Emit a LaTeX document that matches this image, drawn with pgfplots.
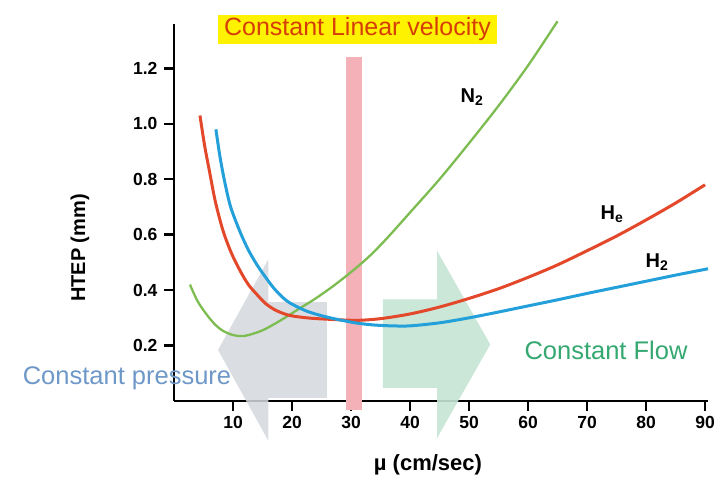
\documentclass[border=0pt]{standalone}
\usepackage{fontspec}
\setmainfont{Liberation Sans}
\usepackage{pgfplots}
\pgfplotsset{compat=1.18}
\definecolor{cN}{RGB}{125,188,80}
\definecolor{cHe}{RGB}{228,72,42}
\definecolor{cH}{RGB}{35,160,218}
\definecolor{cpink}{RGB}{244,178,184}
\definecolor{cgrey}{RGB}{212,216,222}
\definecolor{cmint}{RGB}{196,228,212}
\definecolor{ctitle}{RGB}{214,62,8}
\definecolor{cpress}{RGB}{110,152,200}
\definecolor{cflow}{RGB}{52,168,112}
\begin{document}
\begin{tikzpicture}[x=1pt,y=1pt]
\useasboundingbox (0,0) rectangle (724,482);
\begin{axis}[
  at={(174pt,81pt)}, anchor=south west,
  scale only axis, width=534pt, height=377pt,
  xmin=0, xmax=90.5, ymin=0, ymax=1.36,
  axis x line=bottom, axis y line=left,
  axis line style={line width=2.8pt, black, -},
  tick style={line width=2.4pt, black},
  xtick={10,20,...,90}, ytick={0.2,0.4,0.6,0.8,1.0,1.2},
  yticklabel style={/pgf/number format/fixed, /pgf/number format/fixed zerofill, /pgf/number format/precision=1, xshift=-3pt},
  tick align=outside, major tick length=10pt,
  ticklabel style={font=\fontsize{17.5}{17.5}\selectfont\bfseries},
  /pgf/number format/assume math mode=true,
  xticklabel style={yshift=-2pt},
  clip=false,
]
% background shapes
\fill[cgrey, opacity=0.85] (axis cs:7.46,0.184) -- (axis cs:16,0.512) -- (axis cs:16,0.357)
  -- (axis cs:25.9,0.357) -- (axis cs:25.9,0.011) -- (axis cs:16,0.011) -- (axis cs:16,-0.144) -- cycle;
\fill[cmint, opacity=0.9] (axis cs:53.6,0.204) -- (axis cs:44.6,0.541) -- (axis cs:44.6,0.367)
  -- (axis cs:35.4,0.367) -- (axis cs:35.4,0.047) -- (axis cs:44.6,0.047) -- (axis cs:44.6,-0.133) -- cycle;
\fill[cpink] (axis cs:29.2,-0.032) rectangle (axis cs:31.9,1.24);
% N2
\addplot[cN, line width=2.3pt, smooth] coordinates {
(2.7,0.42) (4,0.36) (5.6,0.31) (7,0.275) (8.3,0.253) (10,0.238) (12,0.235) (15,0.255)
(18,0.29) (21,0.33) (24,0.37) (27,0.415) (30,0.465) (33,0.52) (36,0.585) (40,0.68)
(45,0.80) (50,0.93) (55,1.065) (60,1.21) (65,1.37)};
% He
\addplot[cHe, line width=3pt, smooth] coordinates {
(4.4,1.03) (5.2,0.92) (6,0.83) (7,0.72) (8.3,0.615) (9.7,0.535) (11.2,0.47) (12.6,0.42)
(14.1,0.383) (15.5,0.352) (17,0.33) (18.5,0.316) (20,0.307) (23,0.299) (27,0.294)
(31,0.291) (35,0.297) (40,0.314) (45,0.339) (50,0.37) (55,0.405) (60,0.446) (65,0.491)
(70,0.542) (75,0.595) (80,0.653) (85,0.714) (90,0.78)};
% H2
\addplot[cH, line width=3pt, smooth] coordinates {
(7.1,0.98) (7.8,0.88) (8.6,0.79) (9.6,0.70) (11.2,0.61) (12.6,0.545) (14.1,0.49)
(15.5,0.447) (16.8,0.41) (18.2,0.378) (19.7,0.353) (22.5,0.324) (25.3,0.306) (28,0.293)
(31,0.281) (34,0.274) (37,0.271) (40,0.271) (45,0.282) (50,0.30) (55,0.321) (60,0.343)
(65,0.365) (70,0.388) (75,0.41) (80,0.432) (85,0.454) (90.5,0.477)};
\end{axis}
% labels
\node[rotate=90, font=\fontsize{20}{20}\selectfont\bfseries] at (80,234) {HTEP (mm)};
\node[font=\fontsize{22}{22}\selectfont\bfseries] at (428,17) {µ (cm/sec)};
\node[font=\fontsize{20}{20}\selectfont\bfseries] at (472,385) {N\textsubscript{2}};
\node[font=\fontsize{20}{20}\selectfont\bfseries] at (612,268) {H\textsubscript{e}};
\node[font=\fontsize{20}{20}\selectfont\bfseries] at (657,220) {H\textsubscript{2}};
\node[fill=yellow, text=ctitle, inner sep=0pt, minimum width=279pt, minimum height=29pt,
  font=\fontsize{25}{25}\selectfont] at (357.5,452.5) {Constant Linear velocity};
\node[text=cpress, inner sep=0pt, font=\fontsize{25.5}{25.5}\selectfont] at (127,104) {Constant pressure};
\node[text=cflow, inner sep=0pt, font=\fontsize{25.5}{25.5}\selectfont] at (606,132) {Constant Flow};
\end{tikzpicture}
\end{document}
